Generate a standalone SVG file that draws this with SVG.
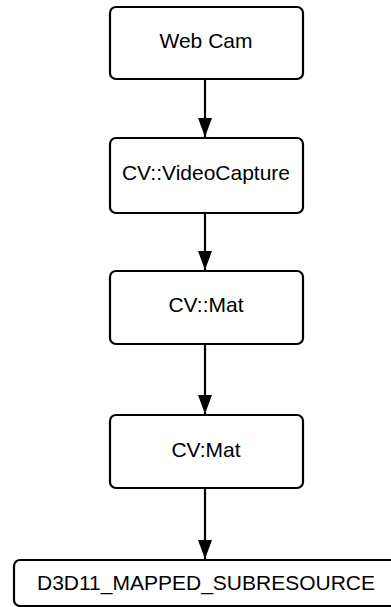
<svg xmlns="http://www.w3.org/2000/svg" width="391" height="607" viewBox="0 0 391 607">
<style>
.box{fill:#fff;stroke:#000;stroke-width:2.2}
.lbl{font-family:"Liberation Sans",Arial,sans-serif;font-size:21px;fill:#000;text-anchor:middle}
.edge{stroke:#000;stroke-width:2.2;fill:none}
</style>
<defs>
<marker id="ah" markerWidth="19" markerHeight="14" refX="19" refY="7" orient="auto" markerUnits="userSpaceOnUse" viewBox="0 0 19 14">
<path d="M0,0 L19,7 L0,14 Z" fill="#000"/>
</marker>
</defs>
<rect width="391" height="607" fill="#fff"/>
<g id="connectors">
<line class="edge" x1="205" y1="79" x2="205" y2="137" marker-end="url(#ah)"/>
<line class="edge" x1="205" y1="213" x2="205" y2="270" marker-end="url(#ah)"/>
<line class="edge" x1="205" y1="344" x2="205" y2="414" marker-end="url(#ah)"/>
<line class="edge" x1="205" y1="488" x2="205" y2="559" marker-end="url(#ah)"/>
</g>
<g id="webcam">
<rect class="box" x="110" y="7" width="193" height="72" rx="6"/>
<text class="lbl" x="206" y="47.5">Web Cam</text>
</g>
<g id="videocapture">
<rect class="box" x="110" y="138" width="193" height="75" rx="6"/>
<text class="lbl" x="206" y="180">CV::VideoCapture</text>
</g>
<g id="mat1">
<rect class="box" x="110" y="271" width="193" height="73" rx="6"/>
<text class="lbl" x="206" y="312">CV::Mat</text>
</g>
<g id="mat2">
<rect class="box" x="110" y="415" width="193" height="73" rx="6"/>
<text class="lbl" x="206" y="457">CV:Mat</text>
</g>
<g id="d3d11">
<rect class="box" x="14" y="560" width="384" height="46" rx="6"/>
<text class="lbl" x="206" y="590">D3D11_MAPPED_SUBRESOURCE</text>
</g>
</svg>
